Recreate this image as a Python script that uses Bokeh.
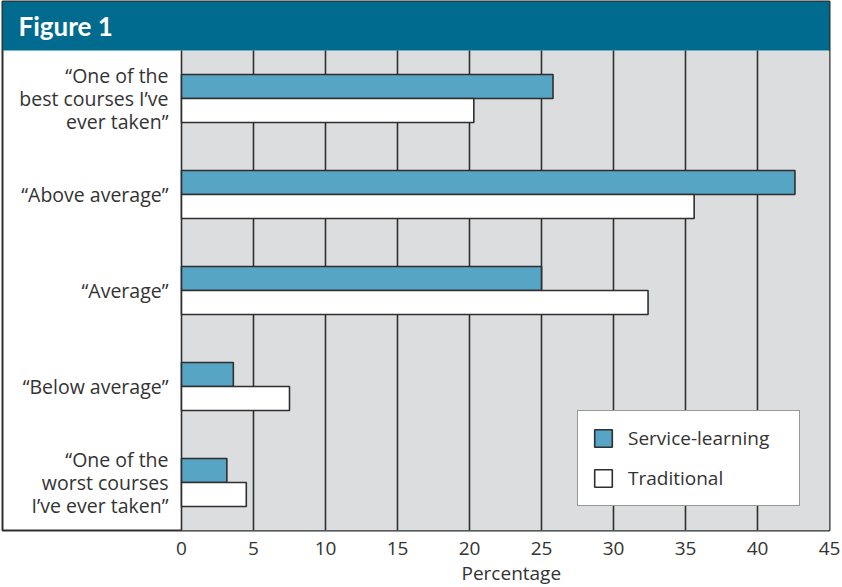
from bokeh.plotting import figure
from bokeh.models import Range1d, FixedTicker, Legend, LegendItem, Title, ColumnDataSource
from bokeh.core.properties import value
from bokeh.embed import file_html
from bokeh.resources import INLINE

# ---- data ----
categories = [
    "\u201cOne of the\nbest courses I\u2019ve\never taken\u201d",
    "\u201cAbove average\u201d",
    "\u201cAverage\u201d",
    "\u201cBelow average\u201d",
    "\u201cOne of the\nworst courses\nI\u2019ve ever taken\u201d",
]
service_learning = [25.8, 42.6, 25.0, 3.6, 3.15]
traditional = [20.3, 35.6, 32.4, 7.5, 4.5]
x_ticks = [0, 5, 10, 15, 20, 25, 30, 35, 40, 45]
series_names = ["Service-learning", "Traditional"]
title_text = "Figure 1"
x_label = "Percentage"

# ---- styles / geometry ----
FONT = "Open Sans"
TITLE_FONT = "Lato"
TEXT_COLOR = "#333333"
TEAL = "#006a8f"
BAR_BLUE = "#56a5c4"
GRAY_BG = "#dcdddf"
EDGE = "#2f2f2f"

px_per_unit = 14.4          # horizontal pixels per percent
label_area_px = 179         # white label area left of 0
cat_px = 96                 # vertical pixels per category
title_px = 49               # height of the title band
n = len(categories)
xmax = x_ticks[-1]
xmin = -label_area_px / px_per_unit
plot_top = n
ytop = n + title_px / cat_px

frame_w = int(round((xmax - xmin) * px_per_unit))
frame_h = n * cat_px + title_px

p = figure(
    output_backend="svg", toolbar_location=None,
    frame_width=frame_w, frame_height=frame_h,
    x_range=Range1d(xmin, xmax), y_range=Range1d(0, ytop),
    min_border_left=2, min_border_top=1, min_border_right=11, min_border_bottom=0,
    background_fill_color="white", border_fill_color="white",
)
p.outline_line_color = EDGE
p.outline_line_width = 2
p.xgrid.visible = False
p.ygrid.visible = False
p.yaxis.visible = False

# gray plotting area
p.quad(left=[0], right=[xmax], bottom=[0], top=[plot_top],
       fill_color=GRAY_BG, line_color=None)
# title band
p.quad(left=[xmin], right=[xmax], bottom=[plot_top], top=[ytop],
       fill_color=TEAL, line_color=None)
p.text(x=[-163 / px_per_unit], y=[plot_top + (ytop - plot_top) / 2],
       text=[title_text], text_font=value(TITLE_FONT), text_font_style="bold",
       text_font_size="26px", text_color="white", text_baseline="middle",
       text_align="left")

# grid lines (vertical) incl. the line at 0
grid_x = [t for t in x_ticks if t < xmax]
p.segment(x0=grid_x, y0=[0] * len(grid_x), x1=grid_x, y1=[plot_top] * len(grid_x),
          line_color=EDGE, line_width=1.6)

# bars
centers = [n - i - 0.5 for i in range(n)]
bar_h = 0.25
src = ColumnDataSource(dict(
    cat=categories, c=centers,
    y_sl=[c + bar_h / 2 for c in centers],
    y_tr=[c - bar_h / 2 for c in centers],
    sl=service_learning, tr=traditional,
))
r_sl = p.hbar(y="y_sl", left=0, right="sl", height=bar_h, source=src,
              fill_color=BAR_BLUE, line_color=EDGE, line_width=1.6)
r_tr = p.hbar(y="y_tr", left=0, right="tr", height=bar_h, source=src,
              fill_color="white", line_color=EDGE, line_width=1.6)

# category labels
p.text(x=-13 / px_per_unit, y="c", text="cat", source=src,
       text_font=value(FONT), text_font_size="19.5px", text_color=TEXT_COLOR,
       text_align="right", text_baseline="middle", text_line_height=0.84)

# x axis
p.xaxis.ticker = FixedTicker(ticks=x_ticks)
p.xaxis.axis_line_color = None
p.xaxis.major_tick_line_color = None
p.xaxis.minor_tick_line_color = None
p.xaxis.major_label_text_font = FONT
p.xaxis.major_label_text_font_size = "19px"
p.xaxis.major_label_text_color = TEXT_COLOR
p.xaxis.major_label_standoff = 5

p.add_layout(Title(text=x_label, align="left", offset=459,
                   text_font=FONT, text_font_size="19px", text_font_style="normal",
                   text_color=TEXT_COLOR, standoff=0), "below")

legend = Legend(items=[LegendItem(label=series_names[0], renderers=[r_sl]),
                       LegendItem(label=series_names[1], renderers=[r_tr])],
                location=(575, 24), margin=0, padding=14, spacing=14,
                glyph_width=22, glyph_height=22, label_height=22, label_width=157,
                label_standoff=14, label_text_font=FONT, label_text_font_size="19px",
                label_text_color=TEXT_COLOR, border_line_color=EDGE, border_line_width=1.6,
                background_fill_color="white", background_fill_alpha=1.0)
p.add_layout(legend)

open("out.html", "w").write(file_html(p, INLINE))
